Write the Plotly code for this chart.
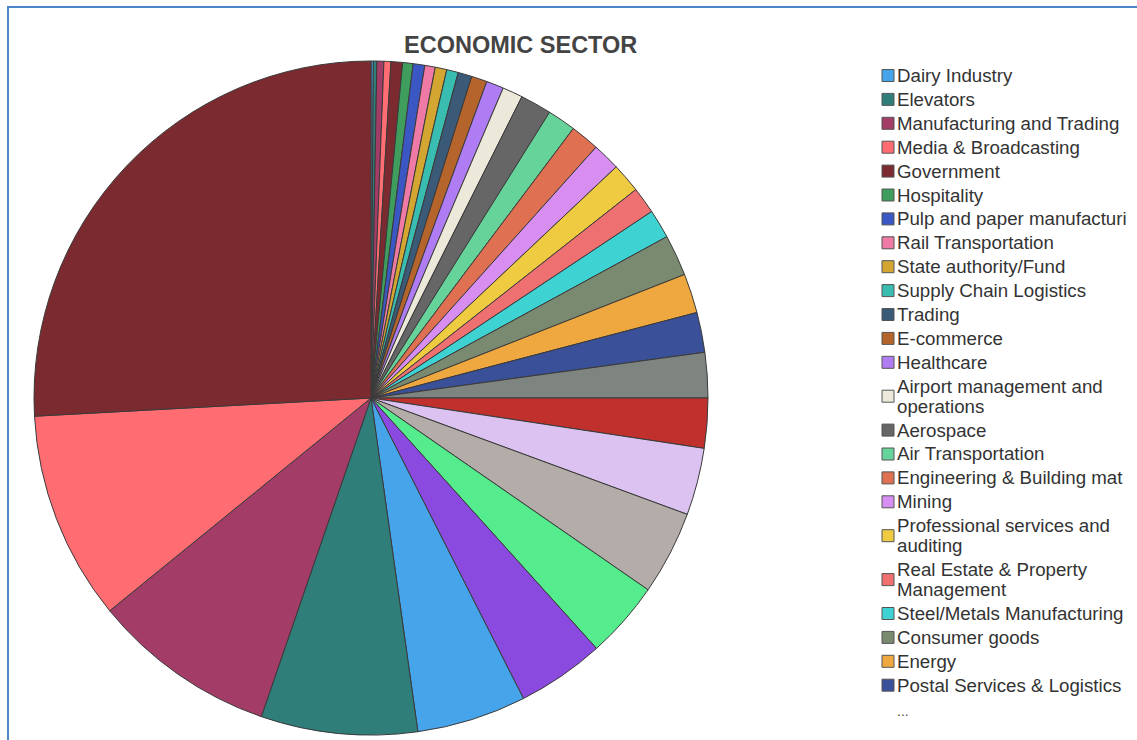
import plotly.graph_objects as go

W, H = 1137, 740

# ---- data (values proportional to slice angle) ----
legend_labels = [
    "Dairy Industry", "Elevators", "Manufacturing and Trading", "Media & Broadcasting",
    "Government", "Hospitality", "Pulp and paper manufacturi", "Rail Transportation",
    "State authority/Fund", "Supply Chain Logistics", "Trading", "E-commerce",
    "Healthcare", "Airport management and\noperations", "Aerospace", "Air Transportation",
    "Engineering & Building mat", "Mining", "Professional services and\nauditing",
    "Real Estate & Property\nManagement", "Steel/Metals Manufacturing", "Consumer goods",
    "Energy", "Postal Services & Logistics",
]
hidden_labels = [f"Other sector {i}" for i in range(25, 36)]
labels = [l.replace("\n", " ") for l in legend_labels] + hidden_labels

values = [
    0.4, 0.6, 1.2, 1.2, 2.0, 1.8, 2.0, 1.8, 2.0, 2.0, 2.4, 2.7, 3.0, 3.5,
    5.4, 4.9, 5.0, 4.8, 5.1, 4.6, 5.0, 7.1, 6.8, 6.9,
    7.8, 8.6, 11.6, 14.5, 13.3, 15.1, 18.9, 27.0, 31.85, 36.05, 93.1,
]

palette = [
    "#45a4ea", "#2f7e7a", "#a33d68", "#ff6d73", "#7b2b2f",
    "#3f9e5e", "#3a57c4", "#f07aa6", "#d3a531", "#39bdb0",
    "#3a5a78", "#b5642b", "#b07cf4", "#ede9da", "#666666",
    "#66d39a", "#e07052", "#d88ef0", "#efcb42", "#ef7070",
    "#3fd2d2", "#7a8a70", "#efa840", "#3a5098", "#7e8480",
    "#c0302c", "#dcc2f0", "#b3aca8", "#55ec8e", "#8a4ae0",
]
colors = [palette[i % len(palette)] for i in range(len(values))]

# ---- figure ----
cx, cy, r = 371, 398, 337
fig = go.Figure()
fig.add_trace(go.Pie(
    labels=labels, values=values, sort=False, direction="clockwise", rotation=0,
    textinfo="none", showlegend=False,
    marker=dict(colors=colors, line=dict(color="#3a3a3a", width=1)),
    domain=dict(x=[(cx - r) / W, (cx + r) / W], y=[1 - (cy + r) / H, 1 - (cy - r) / H]),
    hoverinfo="label+percent",
))

def px(x):
    return x / W

def py(y):
    return 1 - y / H

shapes = []
annotations = []
FONT = "Liberation Sans, Arial, sans-serif"

# custom legend
y = 75.5
row = 23.9
line_gap = 20
for i, lab in enumerate(legend_labels):
    lines = lab.split("\n")
    yc = y + (len(lines) - 1) * line_gap / 2
    shapes.append(dict(
        type="rect", xref="paper", yref="paper",
        x0=px(882), x1=px(894), y0=py(yc + 6), y1=py(yc - 6),
        fillcolor=colors[i], line=dict(color="#555555", width=1),
    ))
    for k, ln in enumerate(lines):
        annotations.append(dict(
            x=px(895), y=py(y + k * line_gap), xref="paper", yref="paper",
            xanchor="left", yanchor="middle", showarrow=False, text=ln,
            font=dict(family=FONT, size=18.7, color="#333333"),
        ))
    y += (len(lines) - 1) * line_gap + row

annotations.append(dict(
    x=px(895), y=py(y + 2), xref="paper", yref="paper", xanchor="left", yanchor="middle",
    showarrow=False, text="...",
    font=dict(family=FONT, size=14, color="#555555"),
))

# title
annotations.append(dict(
    x=px(520), y=py(45), xref="paper", yref="paper", xanchor="center", yanchor="middle",
    showarrow=False, text="<b>ECONOMIC SECTOR</b>",
    font=dict(family=FONT, size=23.5, color="#444444"),
))

# outer border
shapes.append(dict(
    type="rect", xref="paper", yref="paper",
    x0=px(8), x1=1.01, y0=-0.05, y1=py(7),
    line=dict(color="#4a86c8", width=2), fillcolor="rgba(0,0,0,0)", layer="above",
))

fig.update_layout(
    width=W, height=H, margin=dict(l=0, r=0, t=0, b=0),
    paper_bgcolor="white", plot_bgcolor="white",
    shapes=shapes, annotations=annotations, showlegend=False,
)

fig.write_html("out.html")
